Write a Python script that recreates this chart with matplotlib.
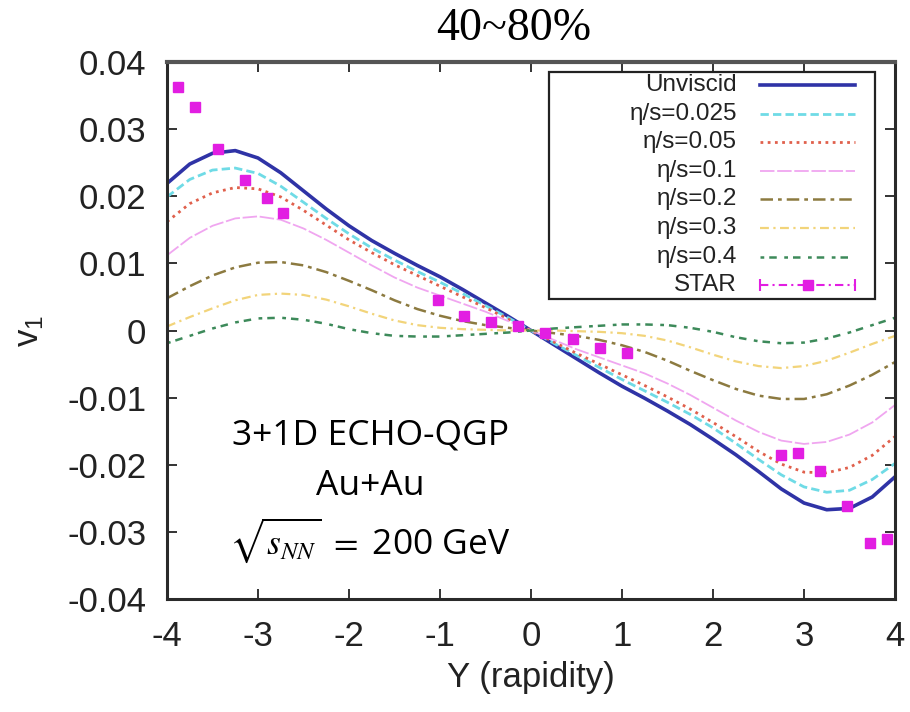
import matplotlib
matplotlib.use("Agg")
import matplotlib.pyplot as plt
from matplotlib.patches import Rectangle
from matplotlib.lines import Line2D

plt.rcParams['axes.unicode_minus'] = False
plt.rcParams['mathtext.fontset'] = 'stix'

# ---------------- data ----------------
rapidity = [-4.0, -3.75, -3.5, -3.25, -3.0, -2.75, -2.5, -2.25, -2.0, -1.75, -1.5, -1.25, -1.0,
            -0.75, -0.5, -0.25, 0.0, 0.25, 0.5, 0.75, 1.0, 1.25, 1.5, 1.75, 2.0, 2.25, 2.5,
            2.75, 3.0, 3.25, 3.5, 3.75, 4.0]

v1_unviscid = [0.0219, 0.0248, 0.0264, 0.0268, 0.0257, 0.0235, 0.0208, 0.0181, 0.0156, 0.0134, 0.0115,
               0.0097, 0.0080, 0.0061, 0.0041, 0.0021, 0.0,
               -0.0021, -0.0042, -0.0063, -0.0083, -0.0101, -0.0120, -0.0140, -0.0162, -0.0185,
               -0.0210, -0.0236, -0.0257, -0.0267, -0.0265, -0.0248, -0.0218]
v1_eta0025 = [0.0199, 0.0225, 0.0239, 0.0242, 0.0234, 0.0215, 0.0191, 0.0167, 0.0144, 0.0123, 0.0105,
              0.0088, 0.0072, 0.0055, 0.0037, 0.0019, 0.0,
              -0.0019, -0.0037, -0.0055, -0.0073, -0.0090, -0.0107, -0.0125, -0.0145, -0.0168,
              -0.0192, -0.0215, -0.0233, -0.0241, -0.0238, -0.0222, -0.0198]
v1_eta005 = [0.0162, 0.0189, 0.0205, 0.0213, 0.0211, 0.0199, 0.0179, 0.0157, 0.0135, 0.0116, 0.0098,
             0.0082, 0.0066, 0.0050, 0.0034, 0.0017, 0.0,
             -0.0017, -0.0034, -0.0050, -0.0066, -0.0082, -0.0099, -0.0117, -0.0137, -0.0158,
             -0.0180, -0.0199, -0.0211, -0.0212, -0.0204, -0.0186, -0.0158]
v1_eta01 = [0.0112, 0.0138, 0.0156, 0.0167, 0.0170, 0.0165, 0.0152, 0.0135, 0.0116, 0.0097, 0.0079,
            0.0064, 0.0052, 0.0040, 0.0028, 0.0014, 0.0,
            -0.0014, -0.0028, -0.0040, -0.0052, -0.0064, -0.0079, -0.0096, -0.0115, -0.0134,
            -0.0151, -0.0164, -0.0169, -0.0166, -0.0155, -0.0137, -0.0111]
v1_eta02 = [0.0048, 0.0066, 0.0082, 0.0094, 0.0101, 0.0102, 0.0097, 0.0087, 0.0074, 0.0060, 0.0045,
            0.0032, 0.0022, 0.0014, 0.0008, 0.0004, 0.0,
            -0.0004, -0.0008, -0.0014, -0.0022, -0.0032, -0.0045, -0.0060, -0.0074, -0.0087,
            -0.0097, -0.0102, -0.0102, -0.0095, -0.0082, -0.0066, -0.0047]
v1_eta03 = [0.0006, 0.0020, 0.0033, 0.0045, 0.0053, 0.0055, 0.0053, 0.0046, 0.0036, 0.0025, 0.0015,
            0.0008, 0.0004, 0.0002, 0.0001, 0.0000, 0.0,
            0.0000, -0.0001, -0.0002, -0.0004, -0.0008, -0.0015, -0.0025, -0.0036, -0.0046,
            -0.0053, -0.0056, -0.0053, -0.0045, -0.0033, -0.0020, -0.0008]
v1_eta04 = [-0.0019, -0.0008, 0.0003, 0.0012, 0.0018, 0.0019, 0.0016, 0.0010, 0.0002, -0.0004, -0.0008,
            -0.0009, -0.0009, -0.0007, -0.0005, -0.0003, 0.0,
            0.0003, 0.0005, 0.0007, 0.0009, 0.0009, 0.0008, 0.0004, -0.0002, -0.0010,
            -0.0016, -0.0019, -0.0018, -0.0012, -0.0003, 0.0008, 0.0019]

star_y = [-3.88, -3.69, -3.44, -3.14, -2.90, -2.72, -1.02, -0.74, -0.44, -0.14, 0.15, 0.46, 0.76, 1.05,
          2.75, 2.93, 3.18, 3.47, 3.72, 3.91]
star_v1 = [0.0363, 0.0333, 0.0271, 0.0224, 0.0197, 0.0175, 0.0045, 0.0022, 0.0012, 0.0007, -0.0003,
           -0.0012, -0.0026, -0.0034, -0.0186, -0.0182, -0.0209, -0.0261, -0.0316, -0.0311]

labels = ['Unviscid', 'η/s=0.025', 'η/s=0.05', 'η/s=0.1', 'η/s=0.2', 'η/s=0.3', 'η/s=0.4', 'STAR']
xticks = [-4, -3, -2, -1, 0, 1, 2, 3, 4]
xticklabels = ['-4', '-3', '-2', '-1', '0', '1', '2', '3', '4']
yticks = [-0.04, -0.03, -0.02, -0.01, 0.0, 0.01, 0.02, 0.03, 0.04]
yticklabels = ['-0.04', '-0.03', '-0.02', '-0.01', '0', '0.01', '0.02', '0.03', '0.04']

# ---------------- styles ----------------
curves = [v1_unviscid, v1_eta0025, v1_eta005, v1_eta01, v1_eta02, v1_eta03, v1_eta04]
styles = [
    dict(color='#2f33a6', lw=2.6, ls='-'),
    dict(color='#6fdbe6', lw=2.0, ls=(0, (3, 1.5))),
    dict(color='#e0604c', lw=2.0, ls=(0, (1, 1.6))),
    dict(color='#f0a6f0', lw=1.3, ls=(0, (8, 1.5))),
    dict(color='#8c7a40', lw=1.8, ls=(0, (5, 2, 1.5, 2))),
    dict(color='#f2d47a', lw=1.6, ls=(0, (4, 2, 1, 2))),
    dict(color='#3d8a5a', lw=1.8, ls=(0, (1.5, 2, 3, 3))),
]
star_color = '#e21ee2'

fig = plt.figure(figsize=(9.10, 7.12), dpi=100)
ax = fig.add_axes([167 / 910, 1 - 599 / 712, 728 / 910, 537 / 712])

for vals, st in zip(curves, styles):
    ax.plot(rapidity, vals, color=st['color'], lw=st['lw'], linestyle=st['ls'],
            solid_joinstyle='round', dash_joinstyle='round', zorder=2)

ax.plot(star_y, star_v1, linestyle='none', marker='s', markersize=7.5, color=star_color, zorder=3)

ax.set_xlim(-4, 4)
ax.set_ylim(-0.04, 0.04)
ax.set_xticks(xticks)
ax.set_xticklabels(xticklabels)
ax.set_yticks(yticks)
ax.set_yticklabels(yticklabels)
for t in ax.get_xticklabels() + ax.get_yticklabels():
    t.set_fontfamily('Liberation Sans')
    t.set_fontsize(25)
    t.set_color('#222222')
ax.tick_params(axis='both', direction='in', length=7, width=1.4, top=True, right=True,
               color='#333333')
ax.tick_params(axis='x', pad=15)
ax.tick_params(axis='y', pad=15)
for side, sp in ax.spines.items():
    sp.set_linewidth(2.2)
    sp.set_color('#2a2a2a')
ax.spines['top'].set_color('#555555')
ax.spines['top'].set_linewidth(3.0)

ax.set_xlabel('Y (rapidity)', fontfamily='Liberation Sans', fontsize=25, color='#222222', labelpad=6)
ax.set_ylabel(r'v$\mathregular{_1}$', fontfamily='Liberation Sans', fontsize=25, color='#222222')
ax.yaxis.set_label_coords((46 - 167) / 728, 0.5)

# title
fig.text(514 / 910, 1 - 29 / 712, '40~80%', ha='center', va='center',
         fontfamily='Liberation Serif', fontsize=33)

# annotation
ann_x = (370 - 167) / 728
ax.text(ann_x, (599 - 436) / 537, '3+1D ECHO-QGP', transform=ax.transAxes, ha='center', va='center',
        fontfamily='Open Sans', fontsize=25.5)
ax.text(ann_x, (599 - 486) / 537, 'Au+Au', transform=ax.transAxes, ha='center', va='center',
        fontfamily='Open Sans', fontsize=25.5)
ax.text(ann_x, (599 - 540) / 537, r'$\sqrt{s_{NN}}$ $=$ 200 GeV', transform=ax.transAxes,
        ha='center', va='center', fontfamily='Open Sans', fontsize=25.5)

# legend drawn in gnuplot style (labels right aligned, samples to the right)
def ax_x(px):
    return (px - 167) / 728

def ax_y(py):
    return (599 - py) / 537

box = Rectangle((ax_x(549), ax_y(299)), ax_x(875) - ax_x(549), ax_y(72) - ax_y(299),
                transform=ax.transAxes, facecolor='white', edgecolor='#222222', lw=1.6, zorder=4)
ax.add_patch(box)
for i, lab in enumerate(labels):
    yy = ax_y(85 + 28.6 * i)
    ax.text(ax_x(737), yy, lab, transform=ax.transAxes, ha='right', va='center',
            fontfamily='Liberation Sans', fontsize=17.5, color='#222222', zorder=5)
    if i < len(styles):
        st = styles[i]
        ax.add_line(Line2D([ax_x(760), ax_x(855)], [yy, yy], transform=ax.transAxes,
                           color=st['color'], lw=st['lw'], linestyle=st['ls'], zorder=5))
    else:
        ax.add_line(Line2D([ax_x(760), ax_x(855)], [yy, yy], transform=ax.transAxes,
                           color=star_color, lw=1.5, linestyle=(0, (4, 2, 1, 2)), zorder=5))
        ax.add_line(Line2D([ax_x(760), ax_x(855)], [yy, yy], transform=ax.transAxes,
                           color=star_color, lw=0, marker='|', markersize=9, mew=1.5, zorder=5))
        ax.add_line(Line2D([ax_x(807.5)], [yy], transform=ax.transAxes,
                           color=star_color, lw=0, marker='s', markersize=7.5, zorder=6))

fig.savefig('out.png', dpi=100)
